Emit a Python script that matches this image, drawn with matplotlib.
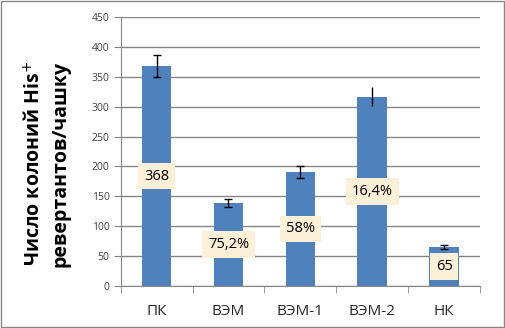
import numpy as np
import matplotlib.pyplot as plt
from matplotlib.patches import Rectangle

categories = ['ПК', 'ВЭМ', 'ВЭМ-1', 'ВЭМ-2', 'НК']
values = [368, 139, 191, 317, 65]
errors = [18, 7, 10, 16, 3]
labels = ['368', '75,2%', '58%', '16,4%', '65']
capped = [True, True, True, False, True]

plt.rcParams['font.family'] = ['Open Sans', 'DejaVu Sans']

fig = plt.figure(figsize=(5.05, 3.28), dpi=100)
ax = fig.add_axes([0.239, 0.128, 0.7115, 0.82])

x = np.arange(len(categories))
ax.bar(x, values, width=0.41, color='#4F81BD', zorder=2)
for xi, v, e, c in zip(x, values, errors, capped):
    ax.errorbar(xi, v, yerr=e, fmt='none', ecolor='black',
                elinewidth=1, capsize=3 if c else 0, capthick=1, zorder=3)

for xi, v, lab in zip(x, values, labels):
    ax.text(xi, v / 2, lab, ha='center', va='center', fontsize=10.5, zorder=4,
            bbox=dict(boxstyle='square,pad=0.4', fc='#FDF0D8', ec='none'))

ax.set_xlim(-0.5, len(categories) - 0.5)
ax.set_ylim(0, 450)
ax.set_yticks(range(0, 451, 50))
ax.yaxis.grid(True, color='#868686', linewidth=1, zorder=0)
ax.set_axisbelow(True)

ax.set_xticks(x)
ax.set_xticklabels(categories, fontsize=11, color='#262626')
ax.set_xticks(np.arange(-0.5, len(categories)), minor=True)
ax.tick_params(axis='x', which='major', length=0, pad=13)
ax.tick_params(axis='x', which='minor', length=5, color='#868686')
ax.tick_params(axis='y', length=5, color='#868686', labelsize=7.5,
               labelcolor='#404040', pad=3)

for s in ['top', 'right']:
    ax.spines[s].set_visible(False)
for s in ['left', 'bottom']:
    ax.spines[s].set_color('#868686')

ax.set_ylabel('Число колоний His$^{+}$\nревертантов/чашку', fontsize=14,
              fontweight='bold', linespacing=1.35)
ax.yaxis.set_label_coords(-0.14, 0.455)

fig.patches.append(Rectangle((0.001, 0.002), 0.997, 0.995, transform=fig.transFigure,
                             fill=False, ec='#868686', lw=1))

fig.savefig('out.png', dpi=100)
